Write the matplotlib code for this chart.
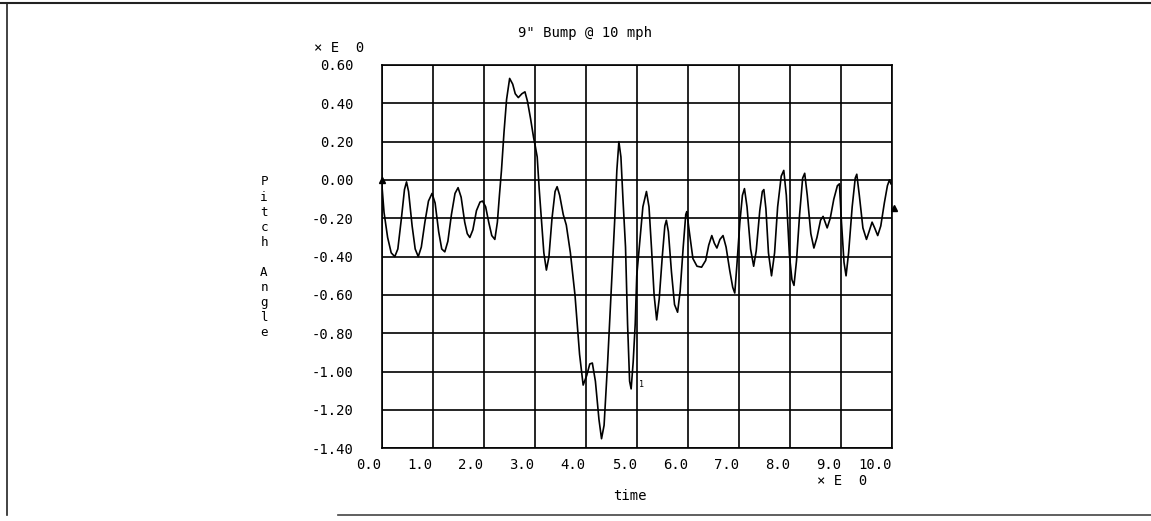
import matplotlib.pyplot as plt
from matplotlib.lines import Line2D


# pitch angle trace
time = [
    0.00, 0.05, 0.12, 0.19, 0.26, 0.32, 0.39, 0.45, 0.49, 0.53,
    0.60, 0.66, 0.72, 0.78, 0.85, 0.92, 0.99, 1.05, 1.12, 1.18,
    1.24, 1.30, 1.37, 1.44, 1.50, 1.56, 1.63, 1.68, 1.73, 1.79,
    1.86, 1.93, 1.98, 2.04, 2.10, 2.16, 2.22, 2.27, 2.31, 2.35,
    2.40, 2.45, 2.51, 2.57, 2.62, 2.68, 2.75, 2.81, 2.86, 2.92,
    2.98, 3.01, 3.05, 3.09, 3.13, 3.18, 3.23, 3.28, 3.34, 3.40,
    3.44, 3.49, 3.56, 3.62, 3.70, 3.79, 3.88, 3.95, 4.02, 4.08,
    4.13, 4.19, 4.26, 4.31, 4.36, 4.43, 4.50, 4.57, 4.61, 4.65,
    4.69, 4.73, 4.78, 4.82, 4.86, 4.89, 4.93, 4.97, 5.00, 5.06,
    5.12, 5.19, 5.24, 5.29, 5.34, 5.39, 5.44, 5.50, 5.55, 5.58,
    5.62, 5.68, 5.74, 5.80, 5.85, 5.91, 5.96, 5.98, 6.02, 6.10,
    6.18, 6.27, 6.35, 6.41, 6.47, 6.52, 6.57, 6.63, 6.69, 6.75,
    6.82, 6.88, 6.92, 6.96, 7.02, 7.07, 7.11, 7.16, 7.23, 7.29,
    7.34, 7.41, 7.46, 7.49, 7.53, 7.58, 7.64, 7.70, 7.76, 7.83,
    7.88, 7.93, 7.99, 8.04, 8.08, 8.13, 8.19, 8.25, 8.29, 8.34,
    8.41, 8.47, 8.53, 8.60, 8.65, 8.69, 8.73, 8.79, 8.86, 8.93,
    8.97, 9.01, 9.06, 9.10, 9.15, 9.22, 9.28, 9.31, 9.36, 9.43,
    9.50, 9.55, 9.61, 9.66, 9.72, 9.78, 9.85, 9.91, 9.95, 9.98,
]
pitch = [
    0.00, -0.17, -0.30, -0.38, -0.40, -0.36, -0.20, -0.05, -0.01, -0.06,
    -0.24, -0.36, -0.40, -0.35, -0.22, -0.11, -0.07, -0.12, -0.27, -0.36,
    -0.375, -0.32, -0.18, -0.07, -0.04, -0.09, -0.22, -0.28, -0.30, -0.26,
    -0.16, -0.115, -0.11, -0.14, -0.22, -0.29, -0.31, -0.22, -0.08, 0.05,
    0.25, 0.42, 0.53, 0.50, 0.45, 0.43, 0.45, 0.46, 0.41, 0.32,
    0.22, 0.18, 0.12, -0.05, -0.20, -0.38, -0.47, -0.40, -0.20, -0.06,
    -0.035, -0.08, -0.18, -0.235, -0.38, -0.60, -0.91, -1.07, -1.02, -0.96,
    -0.955, -1.05, -1.25, -1.35, -1.28, -0.95, -0.57, -0.20, 0.05, 0.20,
    0.12, -0.10, -0.35, -0.75, -1.05, -1.09, -0.95, -0.75, -0.50, -0.32,
    -0.14, -0.06, -0.14, -0.36, -0.60, -0.73, -0.62, -0.40, -0.24, -0.21,
    -0.27, -0.48, -0.65, -0.69, -0.58, -0.35, -0.18, -0.165, -0.25, -0.41,
    -0.45, -0.455, -0.42, -0.34, -0.29, -0.33, -0.355, -0.31, -0.29, -0.35,
    -0.47, -0.56, -0.59, -0.45, -0.22, -0.08, -0.045, -0.14, -0.36, -0.45,
    -0.37, -0.16, -0.06, -0.05, -0.15, -0.38, -0.50, -0.38, -0.14, 0.02,
    0.05, -0.08, -0.39, -0.52, -0.55, -0.42, -0.18, 0.01, 0.035, -0.08,
    -0.28, -0.355, -0.30, -0.21, -0.19, -0.22, -0.25, -0.20, -0.10, -0.03,
    -0.02, -0.22, -0.43, -0.50, -0.38, -0.14, 0.01, 0.03, -0.08, -0.25,
    -0.31, -0.27, -0.22, -0.25, -0.29, -0.24, -0.12, -0.03, 0.00, -0.02,
]

# curve symbols drawn by the plotter at the ends of the trace
marker_t = [0.00, 10.03]
marker_v = [0.00, -0.145]

x_ticks = [0, 1, 2, 3, 4, 5, 6, 7, 8, 9, 10]
x_labels = ["0.0", "1.0", "2.0", "3.0", "4.0", "5.0", "6.0", "7.0", "8.0", "9.0", "10.0"]
y_ticks = [0.6, 0.4, 0.2, 0.0, -0.2, -0.4, -0.6, -0.8, -1.0, -1.2, -1.4]
y_labels = ["0.60", "0.40", "0.20", "0.00", "-0.20", "-0.40", "-0.60",
            "-0.80", "-1.00", "-1.20", "-1.40"]

FONT = "DejaVu Sans Mono"
W, H = 1151, 521

fig = plt.figure(figsize=(W / 100, H / 100), dpi=100)
ax = fig.add_axes([381.5 / W, 1 - 448.3 / H, 510.5 / W, 383.3 / H])

ax.plot(time, pitch, color="black", lw=1.2, zorder=3)
ax.plot(marker_t, marker_v, linestyle="none", marker="^", ms=4,
        color="black", clip_on=False, zorder=4)
ax.text(5.04, -1.08, "1", fontsize=6, family=FONT, zorder=4)

ax.set_xlim(0, 10)
ax.set_ylim(-1.4, 0.6)
ax.set_xticks(x_ticks)
ax.set_xticklabels(x_labels, family=FONT, fontsize=10, ha="right")
ax.set_yticks(y_ticks)
ax.set_yticklabels(y_labels, family=FONT, fontsize=10)
ax.tick_params(axis="both", length=0)
ax.tick_params(axis="y", pad=20)
ax.tick_params(axis="x", pad=7)
ax.grid(True, color="black", lw=1.2)
for sp in ax.spines.values():
    sp.set_color("black")
    sp.set_linewidth(1.2)

# title, axis labels and exponent notes placed like the plotter output
fig.text(585 / W, 1 - 33 / H, '9" Bump @ 10 mph', family=FONT, fontsize=10,
         ha="center", va="center")
fig.text(339 / W, 1 - 48 / H, "× E  0", family=FONT, fontsize=10,
         ha="center", va="center")
fig.text(842 / W, 1 - 481 / H, "× E  0", family=FONT, fontsize=10,
         ha="center", va="center")
fig.text(630 / W, 1 - 496 / H, "time", family=FONT, fontsize=10,
         ha="center", va="center")

for i, ch in enumerate("Pitch Angle"):
    fig.text(264 / W, 1 - (182 + i * 15.1) / H, ch, family=FONT, fontsize=9,
             ha="center", va="center")

# page frame
fig.add_artist(Line2D([0, 1], [1 - 3 / H, 1 - 3 / H], color="#222222", lw=1.5))
fig.add_artist(Line2D([7 / W, 7 / W], [1 - 3 / H, 1 - 515 / H], color="#222222", lw=1.2))
fig.add_artist(Line2D([338 / W, 1], [1 - 515 / H, 1 - 515 / H], color="#444444", lw=1.2))

fig.savefig("out.png", dpi=100)
